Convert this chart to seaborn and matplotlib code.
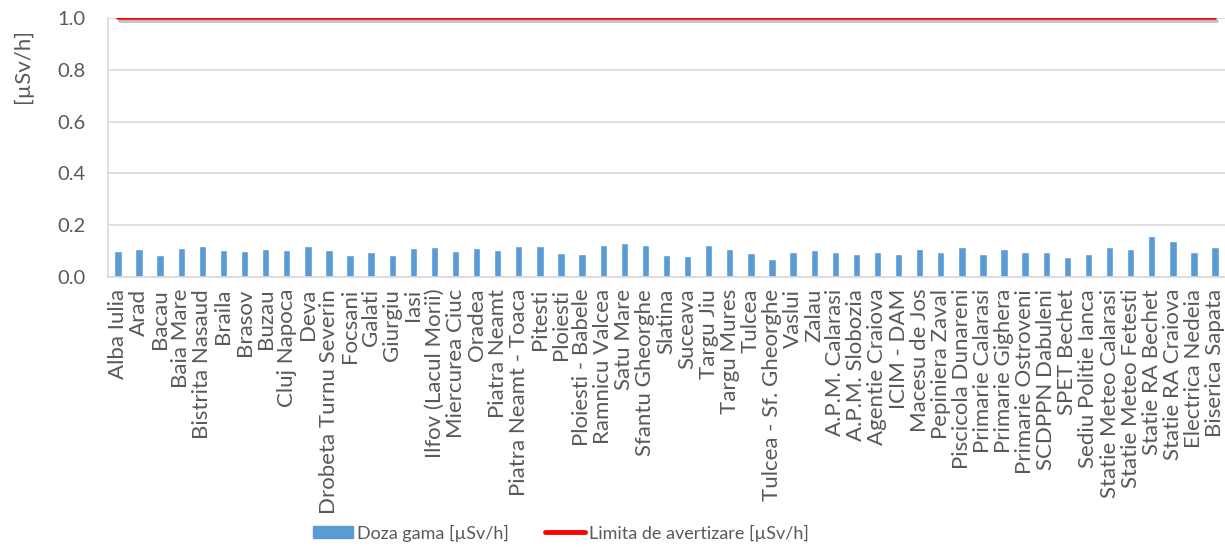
import matplotlib
matplotlib.use("Agg")
import matplotlib.pyplot as plt
import seaborn as sns
import pandas as pd
from matplotlib.lines import Line2D
from matplotlib.patches import Patch
import matplotlib.patheffects as pe

stations = ["Alba Iulia", "Arad", "Bacau", "Baia Mare", "Bistrita Nasaud", "Braila", "Brasov",
            "Buzau", "Cluj Napoca", "Deva", "Drobeta Turnu Severin", "Focsani", "Galati", "Giurgiu",
            "Iasi", "Ilfov (Lacul Morii)", "Miercurea Ciuc", "Oradea", "Piatra Neamt",
            "Piatra Neamt - Toaca", "Pitesti", "Ploiesti", "Ploiesti - Babele", "Ramnicu Valcea",
            "Satu Mare", "Sfantu Gheorghe", "Slatina", "Suceava", "Targu Jiu", "Targu Mures",
            "Tulcea", "Tulcea - Sf. Gheorghe", "Vaslui", "Zalau", "A.P.M. Calarasi",
            "A.P.M. Slobozia", "Agentie Craiova", "ICIM - DAM", "Macesu de Jos", "Pepiniera Zaval",
            "Piscicola Dunareni", "Primarie Calarasi", "Primarie Gighera", "Primarie Ostroveni",
            "SCDPPN Dabuleni", "SPET Bechet", "Sediu Politie Ianca", "Statie Meteo Calarasi",
            "Statie Meteo Fetesti", "Statie RA Bechet", "Statie RA Craiova", "Electrica Nedeia",
            "Biserica Sapata"]
doza = [0.101, 0.108, 0.085, 0.112, 0.121, 0.103, 0.099, 0.108, 0.105, 0.121, 0.105, 0.084,
        0.098, 0.086, 0.111, 0.116, 0.099, 0.112, 0.103, 0.120, 0.120, 0.092, 0.088, 0.123,
        0.132, 0.123, 0.084, 0.083, 0.123, 0.108, 0.092, 0.071, 0.095, 0.105, 0.097, 0.088,
        0.097, 0.088, 0.107, 0.097, 0.116, 0.088, 0.107, 0.097, 0.097, 0.077, 0.088, 0.116,
        0.107, 0.159, 0.138, 0.097, 0.116]
limita = 1.0

bar_color = "#5B9BD5"
line_color = "#FF0000"
text_color = "#595959"

df = pd.DataFrame({"statie": stations, "doza": doza, "limita": [limita] * len(stations)})

sns.set_theme(style="white")
plt.rcParams["font.family"] = ["Lato", "DejaVu Sans"]

fig = plt.figure(figsize=(12.25, 5.52), dpi=100)
ax = fig.add_axes([108 / 1225, 1 - 277 / 552, 1 - 108 / 1225, (277 - 18) / 552])

sns.barplot(data=df, x="statie", y="doza", color=bar_color, width=0.35, saturation=1, ax=ax, zorder=2)
sns.lineplot(data=df, x="statie", y="limita", color=line_color, linewidth=2.6, ax=ax, zorder=3,
             path_effects=[pe.SimpleLineShadow(offset=(1.5, -2), alpha=0.25, shadow_color="black"), pe.Normal()])

ax.set_ylim(0, 1.0)
yt = [0.0, 0.2, 0.4, 0.6, 0.8, 1.0]
ax.set_yticks(yt)
ax.set_yticklabels([f"{v:.1f}" for v in yt], fontsize=14.5, color=text_color)
ax.set_xlim(-0.47, len(stations) - 1 + 0.47)
ax.set_xlabel("")
ax.set_ylabel("[µSv/h]", fontsize=16, color=text_color)
ax.yaxis.set_label_coords(-0.067, 0.815)
ax.tick_params(axis="x", labelrotation=90, labelsize=16, colors=text_color, length=0, pad=8.5)
ax.tick_params(axis="y", length=0, pad=16)
for lbl in ax.get_xticklabels():
    lbl.set_color(text_color)
ax.yaxis.grid(True, color="#D9D9D9", linewidth=1.2, zorder=0)
ax.set_axisbelow(True)
for s in ["top", "right"]:
    ax.spines[s].set_visible(False)
for s in ["left", "bottom"]:
    ax.spines[s].set_color("#D9D9D9")
    ax.spines[s].set_linewidth(1.2)

handles = [Patch(facecolor=bar_color, edgecolor=bar_color),
           Line2D([0], [0], color=line_color, linewidth=3.5)]
fig.legend(handles, ["Doza gama [µSv/h]", "Limita de avertizare [µSv/h]"], loc="center",
           bbox_to_anchor=(561 / 1225, 1 - 533 / 552), ncol=2, frameon=False, fontsize=13,
           labelcolor=text_color, handlelength=2.2, handleheight=0.6, handletextpad=0.25,
           columnspacing=2.0)

fig.savefig("out.png", dpi=100)
